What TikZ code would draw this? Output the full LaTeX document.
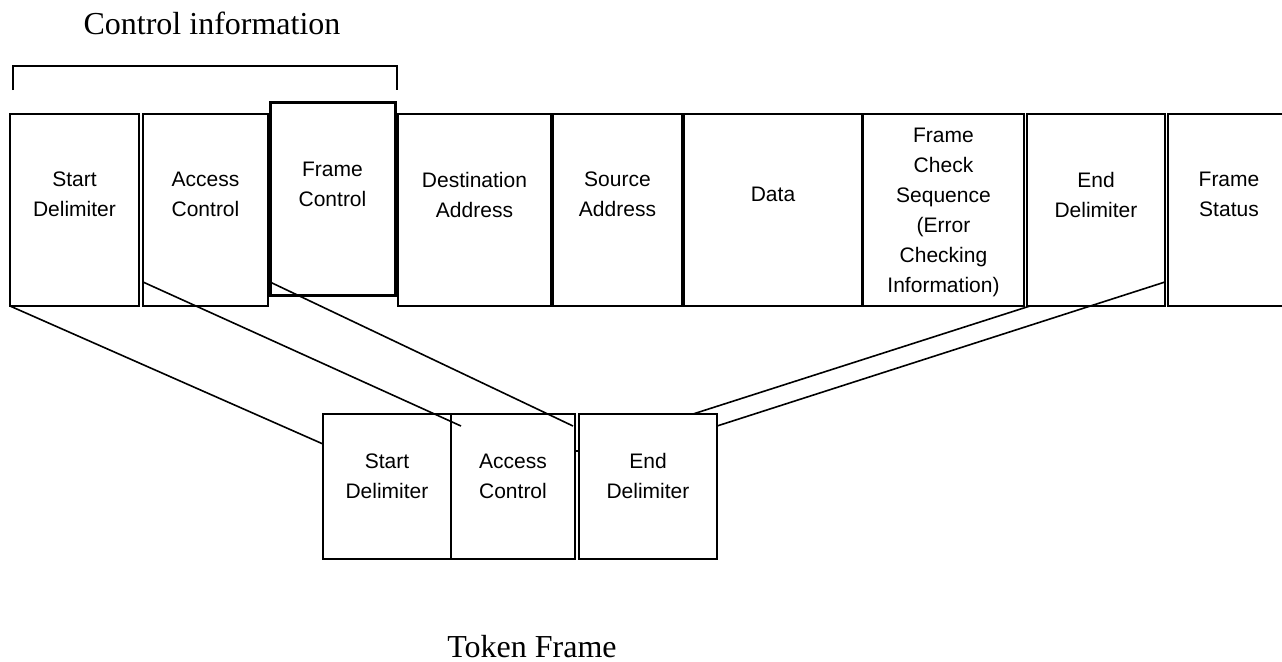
\documentclass[tikz,border=0pt]{standalone}
\usepackage{fontspec}
\setmainfont{Liberation Serif}
\newfontfamily\fieldfont{Liberation Sans}
\usetikzlibrary{calc}

\begin{document}
\begin{tikzpicture}[x=0.5pt,y=-0.5pt,
    field/.style={draw,line width=1.1pt,inner sep=0pt,outer sep=0pt,minimum height=96pt},
    token/.style={field,minimum height=72.5pt},
    fieldtext/.style={font=\fieldfont\fontsize{10.5}{15}\selectfont,align=center,inner sep=0pt},
    link/.style={line width=0.8pt},
    caption/.style={font=\fontsize{16}{19}\selectfont,anchor=base}]
  \path[use as bounding box] (0,0) rectangle (1282,661);
  \clip (0,0) rectangle (1282,661);

  % full frame
  \node[field,minimum width=64.5pt] (sd) at (74.5,210) {};
  \node[field,minimum width=62.5pt] (ac) at (205.5,210) {};
  \node[field,line width=1.5pt,minimum width=62.5pt,minimum height=96.5pt] (fc) at (332.5,198.5) {};
  \node[field,minimum width=76.5pt] (da) at (474.5,210) {};
  \node[field,minimum width=64.5pt] (sa) at (617.5,210) {};
  \node[field,minimum width=89pt] (dt) at (773,210) {};
  \node[field,minimum width=80.5pt] (fcs) at (943.5,210) {};
  \node[field,minimum width=69pt] (ed) at (1096,210) {};
  \node[field,minimum width=61pt] (fs) at (1229,210) {};

  \node[fieldtext] (sd-t) at (74.5,194.5) {Start\\Delimiter};
  \node[fieldtext] (ac-t) at (205.5,194.5) {Access\\Control};
  \node[fieldtext] (fc-t) at (332.5,184.5) {Frame\\Control};
  \node[fieldtext] (da-t) at (474.5,194.5) {Destination\\Address};
  \node[fieldtext] (sa-t) at (617.5,194.5) {Source\\Address};
  \node[fieldtext] (dt-t) at (773,194.5) {Data};
  \node[fieldtext] (fcs-t) at (943.5,212.5) {Frame\\Check\\Sequence\\(Error\\Checking\\Information)};
  \node[fieldtext] (ed-t) at (1096,194.5) {End\\Delimiter};
  \node[fieldtext] (fs-t) at (1229,194.5) {Frame\\Status};

  % control information bracket
  \coordinate (br-l) at (13,90);
  \coordinate (br-r) at (397,90);
  \draw[line width=0.7pt] (br-l) -- ++(0,-24) -| (br-r);
  \node[caption] (ctrl) at (212,34) {Control information};

  % token frame
  \node[token,minimum width=64pt] (tsd) at (387,486.5) {};
  \node[token,minimum width=62pt] (tac) at (513,486.5) {};
  \node[token,minimum width=69pt] (ted) at (648,486.5) {};

  \node[fieldtext] (tsd-t) at (387,476) {Start\\Delimiter};
  \node[fieldtext] (tac-t) at (513,476) {Access\\Control};
  \node[fieldtext] (ted-t) at (648,476) {End\\Delimiter};

  \node[caption] (tok) at (532,657) {Token Frame};

  % connectors
  \draw[link] (sd.south west) -- ($(tsd.north west)+(0,30)$);
  \draw[link] ($(ac.south west)+(0,-24)$) -- ($(tac.north west)+(10,12)$);
  \draw[link] ($(fc.south west)+(0,-13)$) -- ($(tac.north east)+(-2,12)$);
  \draw[link] ($(tac.north east)+(0,37)$) -- ($(ted.north west)+(0,37)$);
  \draw[link] ($(ed.south west)+(3,0)$) -- ($(ted.north west)+(114,0)$);
  \draw[link] ($(ed.south east)+(0,-24)$) -- ($(ted.north east)+(0,12)$);
\end{tikzpicture}
\end{document}
